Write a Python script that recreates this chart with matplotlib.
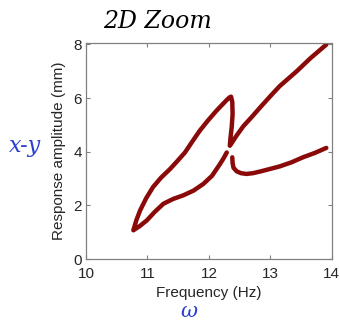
import matplotlib
matplotlib.use("Agg")
import matplotlib.pyplot as plt

plt.rcParams['font.family'] = ['Liberation Sans', 'DejaVu Sans']

# Upper branch (from left turning point, over the peak, down and up again)
upper_f = [10.77, 10.82, 10.88, 10.98, 11.09, 11.22, 11.37, 11.49, 11.61, 11.73, 11.85,
           11.98, 12.12, 12.22, 12.30, 12.34, 12.36, 12.38, 12.385, 12.37, 12.35,
           12.34, 12.37, 12.45, 12.56, 12.70, 12.83, 12.98, 13.15, 13.43, 13.65, 13.91]
upper_a = [1.07, 1.45, 1.81, 2.27, 2.68, 3.03, 3.36, 3.66, 3.97, 4.38, 4.78,
           5.15, 5.52, 5.76, 5.95, 6.03, 6.05, 5.85, 5.40, 4.90, 4.50,
           4.22, 4.32, 4.60, 4.95, 5.30, 5.64, 6.02, 6.44, 7.00, 7.48, 7.99]

# Lower branch (from left turning point up to the jump)
lower_f = [10.77, 10.87, 10.99, 11.12, 11.26, 11.42, 11.58, 11.75, 11.91, 12.05, 12.18, 12.24, 12.29]
lower_a = [1.07, 1.22, 1.44, 1.76, 2.06, 2.24, 2.37, 2.55, 2.80, 3.10, 3.54, 3.76, 3.97]

# Lower branch after the jump
right_f = [12.38, 12.385, 12.40, 12.45, 12.52, 12.61, 12.72, 12.85, 13.00, 13.15, 13.34, 13.53, 13.72, 13.91]
right_a = [3.79, 3.58, 3.40, 3.27, 3.20, 3.17, 3.20, 3.27, 3.36, 3.45, 3.60, 3.79, 3.95, 4.14]

xticks = [10, 11, 12, 13, 14]
yticks = [0, 2, 4, 6, 8]

fig = plt.figure(figsize=(3.4, 3.24), dpi=100)
ax = fig.add_axes([0.253, 0.2006, 0.723, 0.6667])

col = '#8a0a0a'
kw = dict(color=col, lw=3.2, solid_capstyle='round', solid_joinstyle='round')
ax.plot(lower_f[::-1] + upper_f[1:], lower_a[::-1] + upper_a[1:], **kw)
ax.plot(right_f, right_a, **kw)

ax.set_xlim(10, 14)
ax.set_ylim(0, 8.05)
ax.set_xticks(xticks)
ax.set_yticks(yticks)
ax.tick_params(direction='in', top=True, right=True, length=3, width=0.8,
               color='#808080', labelsize=11, labelcolor='#262626', pad=3)
ax.tick_params(axis='x', pad=6)
for s in ax.spines.values():
    s.set_color('#808080')
    s.set_linewidth(0.9)

ax.set_xlabel('Frequency (Hz)', fontsize=11, color='#262626', labelpad=3)
ax.set_ylabel('Response amplitude (mm)', fontsize=11, color='#262626', labelpad=5)

# handwritten annotations
fig.text(0.462, 0.935, '2D Zoom', fontsize=17, style='italic', color='black',
         ha='center', va='center', family=['DejaVu Serif'])
fig.text(0.075, 0.55, 'x-y', fontsize=16, style='italic', color='#2a3fd0',
         ha='center', va='center', family=['DejaVu Serif'])
fig.text(0.555, 0.04, 'ω', fontsize=15, style='italic', color='#2a3fd0',
         ha='center', va='center', family=['DejaVu Serif'])

fig.savefig('out.png', dpi=100)
